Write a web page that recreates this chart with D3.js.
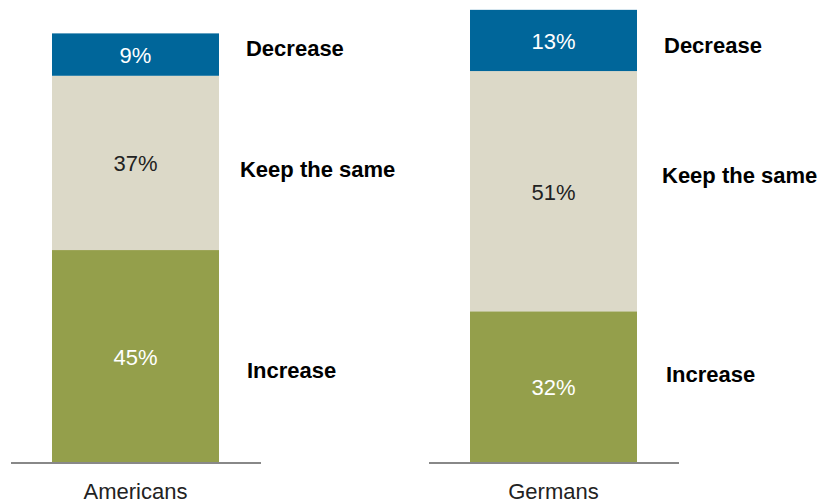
<!DOCTYPE html>
<html>
<head>
<meta charset="utf-8">
<script src="https://cdn.jsdelivr.net/npm/d3@7"></script>
<style>
  body { margin: 0; background: #fff; }
  svg { display: block; font-family: "Liberation Sans", Arial, sans-serif; }
</style>
</head>
<body>
<div id="chart"></div>
<script>
// data
let groups = ['Americans', 'Germans'];
let answers = ['Increase', 'Keep the same', 'Decrease'];
let increaseValues = [45, 32];
let keepValues = [37, 51];
let decreaseValues = [9, 13];
// where the answer labels sit, in % of the y scale, per group
let labelLevels = [[19.5, 62.2, 87.7], [18.5, 60.9, 88.5]];

let width = 827, height = 503;
let colors = { 'Increase': '#949f4b', 'Keep the same': '#dcd9c8', 'Decrease': '#00669a' };
let textColors = { 'Increase': '#fff', 'Keep the same': '#222', 'Decrease': '#fff' };
// gap between bar edge and answer label, per group
let labelNudge = [[28, 21, 27], [29, 25, 27]];

let svg = d3.select('#chart').append('svg')
    .attr('width', width)
    .attr('height', height);

let x = d3.scaleBand()
    .domain(groups)
    .range([52, 637])
    .paddingInner(0.6005)
    .paddingOuter(0);

let y = d3.scaleLinear()
    .domain([0, 100])
    .range([462, -9]);

let rows = groups.map(function(g, i) {
    return { group: g, 'Increase': increaseValues[i], 'Keep the same': keepValues[i], 'Decrease': decreaseValues[i] };
});

let series = d3.stack().keys(answers)(rows);

let layer = svg.selectAll('g.layer')
    .data(series)
    .enter()
    .append('g')
        .attr('class', 'layer');

layer.selectAll('rect')
    .data(function(s) { return s.map(function(d) { return { key: s.key, d: d }; }); })
    .enter()
    .append('rect')
        .attr('x', function(o) { return x(o.d.data.group); })
        .attr('width', x.bandwidth())
        .attr('y', function(o) { return y(o.d[1]); })
        .attr('height', function(o) { return y(o.d[0]) - y(o.d[1]); })
        .attr('fill', function(o) { return colors[o.key]; });

layer.selectAll('text.value')
    .data(function(s) { return s.map(function(d) { return { key: s.key, d: d }; }); })
    .enter()
    .append('text')
        .attr('class', 'value')
        .attr('x', function(o) { return x(o.d.data.group) + x.bandwidth() / 2; })
        .attr('y', function(o) { return (y(o.d[0]) + y(o.d[1])) / 2 + 1; })
        .attr('text-anchor', 'middle')
        .attr('dominant-baseline', 'central')
        .style('font-size', '22px')
        .attr('fill', function(o) { return textColors[o.key]; })
        .text(function(o) { return (o.d[1] - o.d[0]) + '%'; });

// answer labels to the right of each bar
groups.forEach(function(g, gi) {
    answers.forEach(function(a, ai) {
        svg.append('text')
            .attr('x', x(g) + x.bandwidth() + labelNudge[gi][ai])
            .attr('y', y(labelLevels[gi][ai]))
            .attr('dominant-baseline', 'central')
            .style('font-size', '22px')
            .style('font-weight', 'bold')
            .attr('fill', '#000')
            .text(a);
    });
});

// baselines
svg.selectAll('line.base')
    .data(groups)
    .enter()
    .append('line')
        .attr('class', 'base')
        .attr('x1', function(g) { return x(g) - 41; })
        .attr('x2', function(g) { return x(g) + x.bandwidth() + 42; })
        .attr('y1', y(0) + 1)
        .attr('y2', y(0) + 1)
        .attr('stroke', '#888')
        .attr('stroke-width', 2);

// group labels
svg.selectAll('text.group')
    .data(groups)
    .enter()
    .append('text')
        .attr('class', 'group')
        .attr('x', function(g) { return x(g) + x.bandwidth() / 2; })
        .attr('y', 499)
        .attr('text-anchor', 'middle')
        .style('font-size', '22px')
        .attr('fill', '#222')
        .text(function(g) { return g; });
</script>
</body>
</html>
